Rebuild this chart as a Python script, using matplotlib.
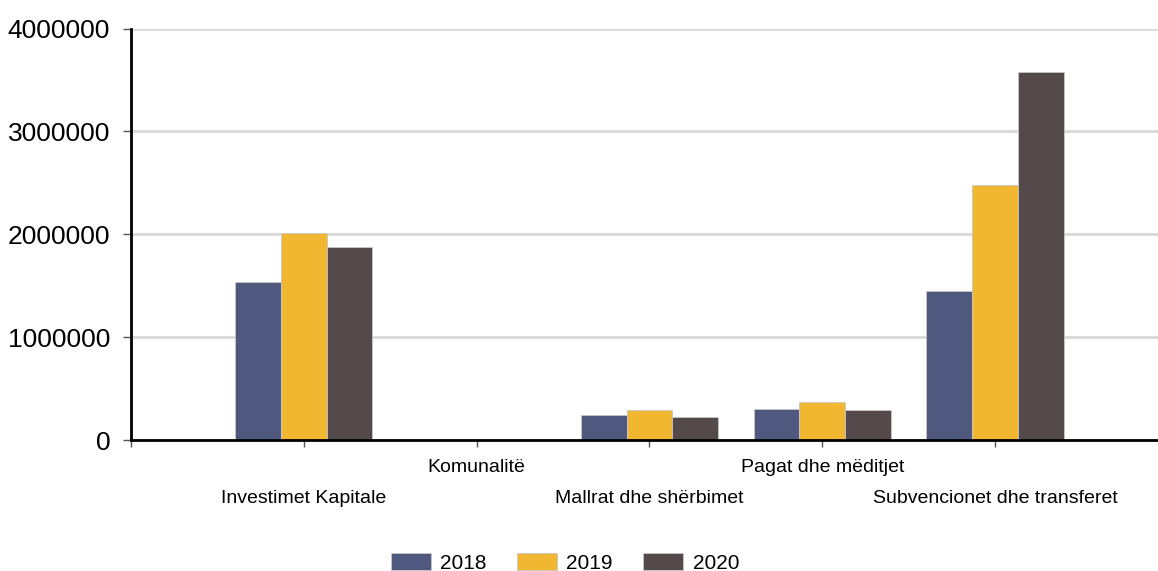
import matplotlib
matplotlib.use("Agg")
import matplotlib.pyplot as plt
import numpy as np

categories = ["Investimet Kapitale", "Komunalitë", "Mallrat dhe shërbimet",
              "Pagat dhe mëditjet", "Subvencionet dhe transferet"]
years = ["2018", "2019", "2020"]
v2018 = [1535000, 0, 243000, 300000, 1450000]
v2019 = [2010000, 0, 290000, 370000, 2480000]
v2020 = [1875000, 0, 220000, 295000, 3580000]
colors = ["#4f587e", "#f2b730", "#554a4b"]
yticks = [0, 1000000, 2000000, 3000000, 4000000]

plt.rcParams['font.family'] = ['Liberation Sans', 'DejaVu Sans']

fig = plt.figure(figsize=(11.58, 5.71), dpi=100)
ax = fig.add_axes([131/1158, 1-440/571, 1-131/1158, (440-28.5)/571])

x = np.arange(1, len(categories)+1)
w = 0.265
series = [v2018, v2019, v2020]
for i, (vals, c, lab) in enumerate(zip(series, colors, years)):
    ax.bar(x + (i-1)*w, vals, w, color=c, edgecolor='#c8c8c8', linewidth=0.6,
           label=lab, zorder=3)

ax.set_xlim(0, (1158-131)/172.8)
ax.set_ylim(0, 4000000)
ax.set_yticks(yticks)
ax.set_yticklabels([str(t) for t in yticks], fontsize=19)
ax.yaxis.grid(True, color='#d9d9d9', linewidth=2, zorder=0)
ax.set_axisbelow(True)

ax.set_xticks(np.arange(0, len(categories)+1))
ax.set_xticklabels([""] + categories, fontsize=14)
for k, t in enumerate(ax.xaxis.get_major_ticks()):
    if k == 0:
        continue
    t.set_pad(9 if k % 2 == 0 else 31)

ax.tick_params(axis='x', length=5, color='#555555', width=1)
ax.tick_params(axis='y', length=6, color='#555555', width=1, pad=9)

for s in ['top', 'right']:
    ax.spines[s].set_visible(False)
ax.spines['left'].set_linewidth(2)
ax.spines['bottom'].set_linewidth(2)
ax.spines['left'].set_zorder(4)
ax.spines['bottom'].set_zorder(4)

ax.legend(loc='center', bbox_to_anchor=(565/1158, 1-563/571), bbox_transform=fig.transFigure,
          ncol=3, frameon=False, fontsize=15, handlelength=1.92, handleheight=0.82,
          handletextpad=0.45, columnspacing=1.45)

fig.savefig("out.png", dpi=100)
